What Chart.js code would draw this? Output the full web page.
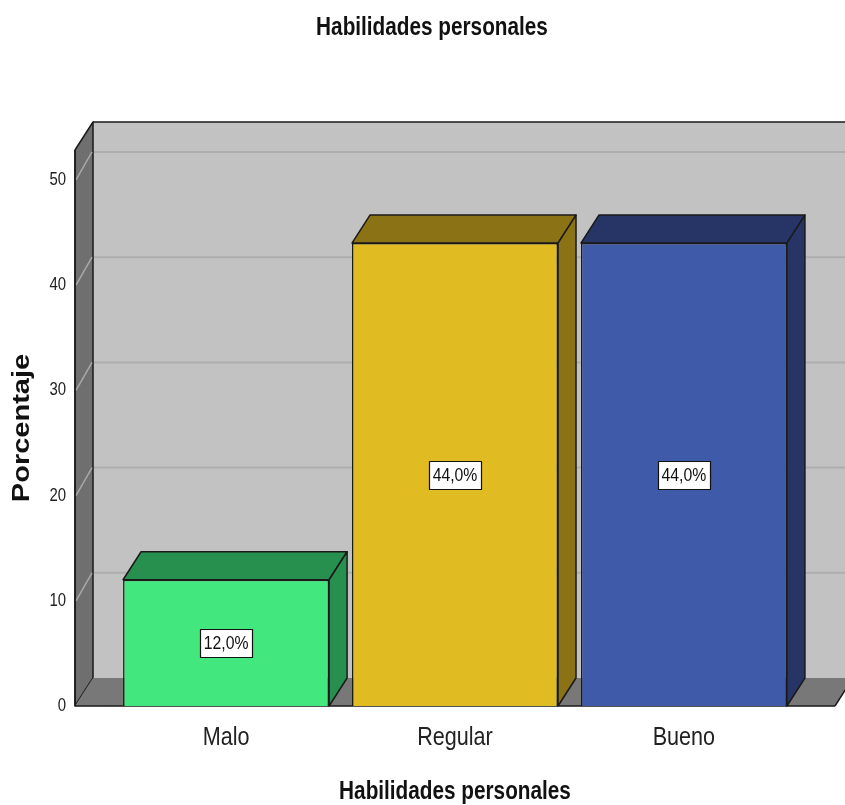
<!DOCTYPE html>
<html>
<head>
<meta charset="utf-8">
<script src="https://cdn.jsdelivr.net/npm/chart.js@4.4.1/dist/chart.umd.min.js"></script>
<style>
  html, body { margin: 0; padding: 0; background: #ffffff; }
  #wrap { width: 845px; height: 805px; }
</style>
</head>
<body>
<div id="wrap"><canvas id="c" width="845" height="805"></canvas></div>
<script>
// ---- data ----
const chartTitle = 'Habilidades personales';
const xAxisTitle = 'Habilidades personales';
const yAxisTitle = 'Porcentaje';
const categories = ['Malo', 'Regular', 'Bueno'];
const percentages = [12.0, 44.0, 44.0];
const yTickValues = [0, 10, 20, 30, 40, 50];

// ---- styles ----
const frontColors = ['#42e87e', '#e0bb21', '#3e5aa8'];
const shadeColors = ['#27904f', '#8a7215', '#263566'];
const FONT = '"Liberation Sans", Arial, sans-serif';
const SQUASH = 0.83;   // the original text is horizontally condensed
const DX = 18, DY = 28;
const EDGE = '#1a1a1a';

function poly(ctx, pts, fill, stroke, lw) {
  ctx.beginPath();
  ctx.moveTo(pts[0][0], pts[0][1]);
  for (let i = 1; i < pts.length; i++) ctx.lineTo(pts[i][0], pts[i][1]);
  ctx.closePath();
  if (fill) { ctx.fillStyle = fill; ctx.fill(); }
  if (stroke) { ctx.strokeStyle = stroke; ctx.lineWidth = lw || 1.5; ctx.lineJoin = 'round'; ctx.stroke(); }
}
function line(ctx, x1, y1, x2, y2, color, lw) {
  ctx.beginPath(); ctx.moveTo(x1, y1); ctx.lineTo(x2, y2);
  ctx.strokeStyle = color; ctx.lineWidth = lw; ctx.stroke();
}

// condensed text: squash every text horizontally (in page coordinates) about its anchor
const condensedText = {
  id: 'condensedText',
  beforeDraw(chart) {
    const ctx = chart.ctx;
    if (ctx._origFillText) return;
    const orig = ctx.fillText;
    ctx._origFillText = orig;
    ctx.fillText = function (t, x, y, mw) {
      const m = this.getTransform();
      const p = m.transformPoint(new DOMPoint(x, y));
      const s = new DOMMatrix().translate(p.x, p.y).scale(SQUASH, 1).translate(-p.x, -p.y).multiply(m);
      this.setTransform(s);
      if (mw === undefined) orig.call(this, t, x, y); else orig.call(this, t, x, y, mw / SQUASH);
      this.setTransform(m);
    };
  },
  afterDraw(chart) {
    const ctx = chart.ctx;
    if (ctx._origFillText) { ctx.fillText = ctx._origFillText; delete ctx._origFillText; }
  }
};

const box3d = {
  id: 'box3d',
  beforeDatasetsDraw(chart) {
    const { ctx, chartArea: { left, right, top, bottom }, scales: { y } } = chart;
    ctx.save();
    // back wall
    ctx.fillStyle = '#c2c2c2';
    ctx.fillRect(left + DX, top - DY, right - left, bottom - top);
    y.ticks.forEach(t => {
      if (t.value === 0) return;
      const py = y.getPixelForValue(t.value);
      line(ctx, left + DX, py - DY, right + DX + 2, py - DY, '#aeaeae', 2);
    });
    line(ctx, left + DX, top - DY, right + DX + 2, top - DY, EDGE, 1.5);
    // left wall
    poly(ctx, [[left, top], [left + DX, top - DY], [left + DX, bottom - DY], [left, bottom]], '#6f6f6f', EDGE, 1.5);
    y.ticks.forEach(t => {
      if (t.value === 0) return;
      const py = y.getPixelForValue(t.value);
      line(ctx, left + 1, py, left + DX - 1, py - DY, '#a8a8a8', 1.5);
    });
    // floor
    poly(ctx, [[left, bottom], [left + DX, bottom - DY], [right + DX, bottom - DY], [right, bottom]], '#787878', null);
    line(ctx, left, bottom, right, bottom, EDGE, 1.5);
    line(ctx, right, bottom, right + DX, bottom - DY, EDGE, 1.5);
    line(ctx, left, top, left, bottom, EDGE, 1.5);
    ctx.restore();
  },
  afterDatasetsDraw(chart) {
    const { ctx } = chart;
    const meta = chart.getDatasetMeta(0);
    ctx.save();
    meta.data.forEach((el, i) => {
      const { x, y, base, width } = el.getProps(['x', 'y', 'base', 'width'], true);
      const l = x - width / 2, r = x + width / 2;
      poly(ctx, [[l, y], [l + DX, y - DY], [r + DX, y - DY], [r, y]], shadeColors[i], EDGE, 1.5);
      poly(ctx, [[r, y], [r + DX, y - DY], [r + DX, base - DY], [r, base]], shadeColors[i], EDGE, 1.5);
      const txt = percentages[i].toFixed(1).replace('.', ',') + '%';
      ctx.font = '19px ' + FONT;
      const w = ctx.measureText(txt).width * SQUASH + 7;
      const h = 28;
      const cy = (y + base) / 2;
      const bx = Math.round(x - w / 2) + 0.5, by = Math.round(cy - h / 2) + 0.5;
      ctx.fillStyle = '#ffffff';
      ctx.fillRect(bx, by, Math.round(w), h);
      ctx.strokeStyle = '#111111'; ctx.lineWidth = 1.2;
      ctx.strokeRect(bx, by, Math.round(w), h);
      ctx.fillStyle = '#111111';
      ctx.textAlign = 'center'; ctx.textBaseline = 'middle';
      ctx.fillText(txt, x, cy + 1);
    });
    ctx.restore();
  }
};

new Chart(document.getElementById('c'), {
  type: 'bar',
  data: {
    datasets: [{
      data: categories.map((c, i) => ({ x: i + 1, y: percentages[i] })),
      backgroundColor: frontColors,
      borderColor: EDGE,
      borderWidth: 1.5,
      barPercentage: 0.9,
      categoryPercentage: 1.0
    }]
  },
  plugins: [condensedText, box3d],
  options: {
    responsive: false,
    animation: false,
    layout: { padding: { left: 29, right: 10, top: 0, bottom: 0 } },
    plugins: {
      legend: { display: false },
      tooltip: { enabled: false },
      title: {
        display: true,
        text: chartTitle,
        color: '#111111',
        font: { family: FONT, size: 25, weight: 'bold' },
        padding: { top: 13, bottom: 107 }
      }
    },
    scales: {
      x: {
        type: 'linear',
        offset: false,
        min: 0.34, max: 3.66,
        grid: { display: false, drawTicks: false, offset: false },
        border: { display: false },
        afterBuildTicks: s => { s.ticks = categories.map((c, i) => ({ value: i + 1 })); },
        afterFit: s => { s.height = 99; },
        ticks: {
          padding: 16,
          color: '#222222',
          font: { family: FONT, size: 26 },
          callback: v => categories[Math.round(v) - 1]
        },
        title: {
          display: true,
          text: xAxisTitle,
          color: '#111111',
          font: { family: FONT, size: 25, weight: 'bold' },
          padding: { top: 0, bottom: -2 }
        }
      },
      y: {
        min: 0, max: 52.85,
        grid: { display: false, drawTicks: false },
        border: { display: false },
        afterBuildTicks: s => { s.ticks = yTickValues.map(v => ({ value: v })); },
        afterFit: s => { s.width = 46; },
        ticks: {
          padding: 9,
          color: '#222222',
          font: { family: FONT, size: 18 }
        },
        title: {
          display: true,
          text: yAxisTitle,
          color: '#111111',
          font: { family: FONT, size: 29, weight: 'bold' },
          padding: { top: -24.4, bottom: 0 }
        }
      }
    }
  }
});
</script>
</body>
</html>
